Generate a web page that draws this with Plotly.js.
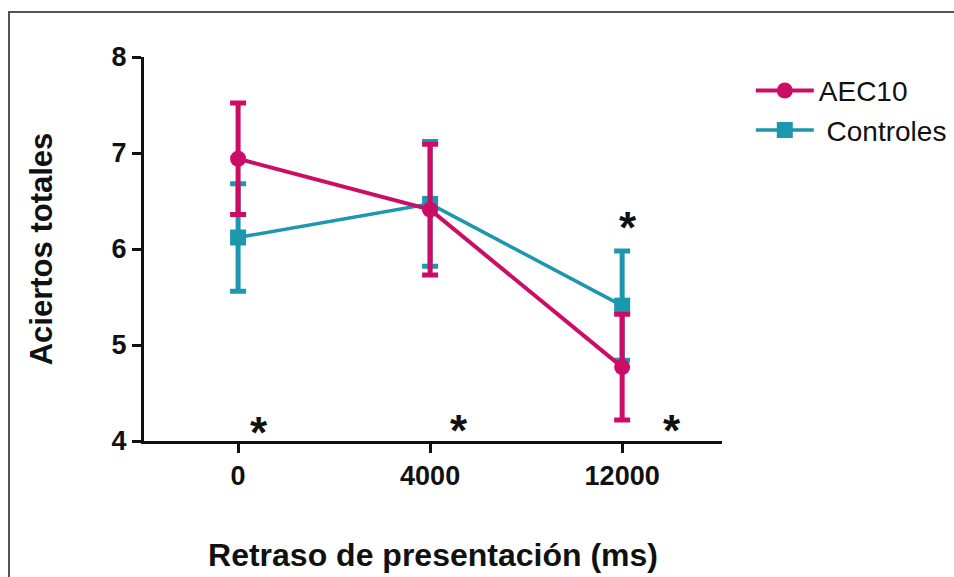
<!DOCTYPE html>
<html>
<head>
<meta charset="utf-8">
<script src="https://cdn.plot.ly/plotly-3.0.1.min.js"></script>
<style>
  html, body { margin: 0; padding: 0; background: #fff; }
  #wrap { position: relative; width: 954px; height: 577px; }
  #chart { position: absolute; left: 0; top: 0; width: 954px; height: 577px; }
  #frame { position: absolute; left: 8px; top: 11px; width: 960px; height: 580px;
           border-top: 2px solid #555; border-left: 2px solid #555; pointer-events: none; }
</style>
</head>
<body>
<div id="wrap">
  <div id="chart"></div>
  <div id="frame"></div>
</div>
<script>
// Categories (presentation delay, ms)
const categories = ['0', '4000', '12000'];

// AEC10 group: means and error values
const aecMean = [6.94, 6.41, 4.77];
const aecErr  = [0.58, 0.68, 0.55];

// Controles group: means and error values
const ctrlMean = [6.12, 6.47, 5.41];
const ctrlErr  = [0.56, 0.65, 0.57];

// Significance asterisks (category index offset, y value)
const sigX = [0.11, 1.15, 2.26, 2.03];
const sigY = [4.14, 4.16, 4.16, 6.28];
const sigText = ['*', '*', '*', '*'];

const magenta = '#cc0d65';
const teal = '#1c97ae';

const traces = [
  {
    name: ' Controles', x: categories, y: ctrlMean, type: 'scatter', mode: 'lines+markers',
    line: { color: teal, width: 3.5 },
    marker: { symbol: 'square', size: 16, color: teal },
    error_y: { type: 'data', array: ctrlErr, visible: true, color: teal, thickness: 5, width: 8 },
    legendrank: 2
  },
  {
    name: 'AEC10', x: categories, y: aecMean, type: 'scatter', mode: 'lines+markers',
    line: { color: magenta, width: 4 },
    marker: { symbol: 'circle', size: 16, color: magenta },
    error_y: { type: 'data', array: aecErr, visible: true, color: magenta, thickness: 5, width: 8 },
    legendrank: 1
  }
];

const annotations = sigX.map((x, i) => ({
  x: x, y: sigY[i], xref: 'x', yref: 'y', text: sigText[i], showarrow: false,
  font: { family: 'Liberation Sans, Arial, sans-serif', size: 44, weight: 700, color: '#111' },
  xanchor: 'center', yanchor: 'middle', yshift: -5
}));

const layout = {
  width: 954, height: 577,
  margin: { l: 144, r: 232, t: 57, b: 136, autoexpand: false },
  paper_bgcolor: '#ffffff', plot_bgcolor: '#ffffff',
  font: { family: 'Liberation Sans, Arial, sans-serif', color: '#111' },
  showlegend: true,
  legend: {
    xref: 'container', yref: 'container',
    x: 0.787, y: 0.886, xanchor: 'left', yanchor: 'top',
    font: { size: 28, color: '#111' }, itemwidth: 58, tracegroupgap: 0,
    bgcolor: 'rgba(0,0,0,0)'
  },
  xaxis: {
    type: 'category', categoryorder: 'array', categoryarray: categories,
    range: [-0.49, 2.52], showgrid: false, zeroline: false,
    showline: true, linecolor: '#111', linewidth: 3,
    ticks: 'outside', ticklen: 9, tickwidth: 3, tickcolor: '#111',
    tickfont: { size: 27, weight: 700, color: '#111' },
    title: { text: 'Retraso de presentación (ms)', standoff: 54,
             font: { size: 32, weight: 700, color: '#111' } }
  },
  yaxis: {
    range: [4, 8], dtick: 1, tick0: 4, showgrid: false, zeroline: false,
    showline: true, linecolor: '#111', linewidth: 3,
    ticks: 'outside', ticklen: 9, tickwidth: 3, tickcolor: '#111',
    tickfont: { size: 27, weight: 700, color: '#111' },
    title: { text: 'Aciertos totales', standoff: 50,
             font: { size: 31, weight: 700, color: '#111' } }
  },
  annotations: annotations
};

Plotly.newPlot('chart', traces, layout, { staticPlot: true, displayModeBar: false });
</script>
</body>
</html>
